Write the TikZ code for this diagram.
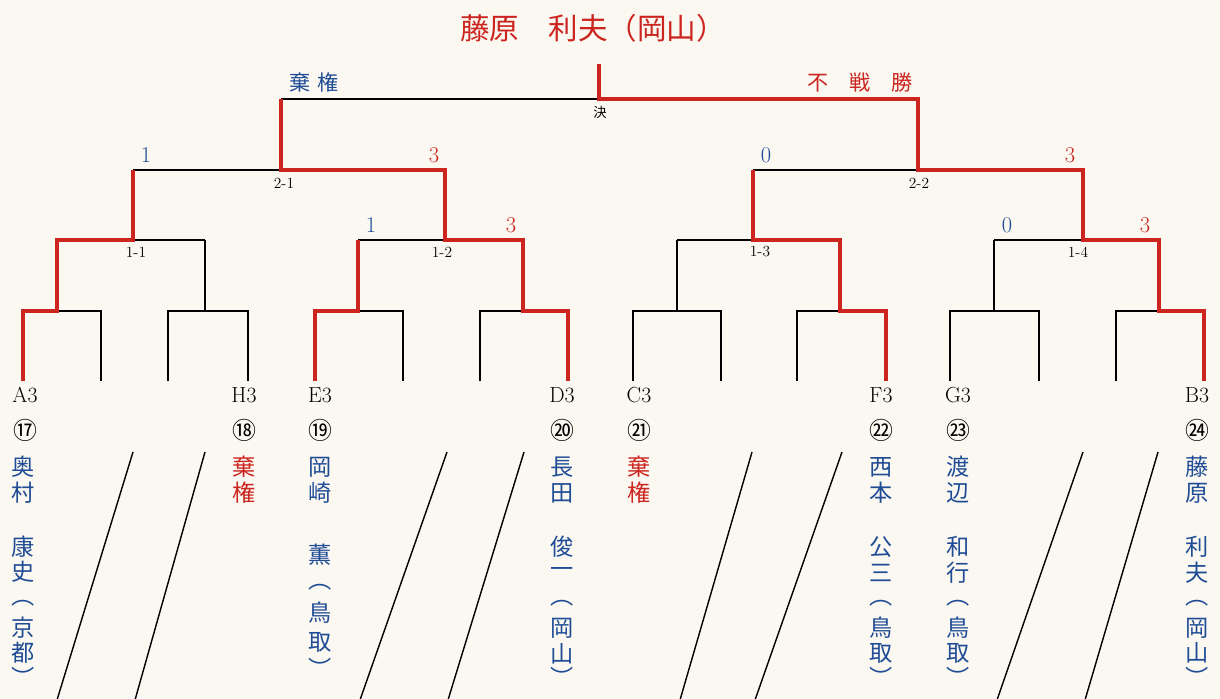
\documentclass[tikz,border=0pt]{standalone}
\usepackage{fontspec}
\usepackage{tikz}
\newfontfamily\jpfont{Noto Sans CJK JP}
\definecolor{winred}{RGB}{204,36,30}
\definecolor{nameblue}{RGB}{32,76,150}
\definecolor{paper}{RGB}{250,248,241}

\tikzset{
  bline/.style={black, line width=0.9pt},
  rline/.style={winred, line width=2.6pt},
  slash/.style={black, line width=1pt},
  seed/.style={inner sep=0pt, font=\fontsize{15.5}{15.5}\selectfont},
  circnum/.style={inner sep=0pt, font=\jpfont\fontsize{17}{17}\selectfont},
  namechar/.style={inner sep=0pt, text=nameblue, font=\jpfont\fontsize{16.5}{16.5}\selectfont},
  score/.style={inner sep=0pt, font=\fontsize{16}{16}\selectfont},
  roundlbl/.style={inner sep=0pt, font=\fontsize{11}{11}\selectfont},
}

\begin{document}
\begin{tikzpicture}[x=0.025cm, y=-0.025cm]

\fill[paper] (0,0) rectangle (1220,698);
\useasboundingbox (0,0) rectangle (1220,698);

% winner
\node[inner sep=0pt, text=winred, font=\jpfont\fontsize{21}{21}\selectfont] (champ) at (593,28) {藤原　利夫（岡山）};

% bracket, black
\foreach \a/\b/\j in {23/101/57, 168/248/205, 315/403/358, 480/568/523, 633/721/677, 797/886/840, 950/1039/994, 1116/1204/1159}
{
  \draw[bline] (\a,381) -- (\a,311) -- (\b,311) -- (\b,381);
  \draw[bline] (\j,311) -- (\j,240);
}
\foreach \a/\b/\j in {57/205/133, 358/523/445, 677/840/753, 994/1159/1083}
{
  \draw[bline] (\a,240) -- (\b,240);
  \draw[bline] (\j,240) -- (\j,170);
}
\foreach \a/\b/\j in {133/445/281, 753/1083/918}
{
  \draw[bline] (\a,170) -- (\b,170);
  \draw[bline] (\j,170) -- (\j,99);
}
\draw[bline] (281,99) -- (918,99);

% bracket, red
\draw[rline] (23,381) -- (23,311) -- (57,311) -- (57,240) -- (133,240) -- (133,170);
\draw[rline] (315,381) -- (315,311) -- (358,311) -- (358,240);
\draw[rline] (568,381) -- (568,311) -- (523,311) -- (523,240) -- (445,240) -- (445,170) -- (281,170) -- (281,99);
\draw[rline] (886,381) -- (886,311) -- (840,311) -- (840,240) -- (753,240) -- (753,170);
\draw[rline] (1204,381) -- (1204,311) -- (1159,311) -- (1159,240) -- (1083,240) -- (1083,170) -- (918,170) -- (918,99) -- (599,99) -- (599,64);

% final
\node[inner sep=0pt, text=nameblue, font=\jpfont\fontsize{15}{15}\selectfont] (kiken) at (314,82) {棄\hspace{0.3em}権};
\node[inner sep=0pt, text=winred, font=\jpfont\fontsize{15}{15}\selectfont] (fusen) at (860,82) {不　戦　勝};
\node[inner sep=0pt, font=\jpfont\fontsize{9.5}{9.5}\selectfont] (ketsu) at (600,112) {決};

% round labels
\node[roundlbl] (r21) at (284,183) {2-1};
\node[roundlbl] (r22) at (919,183) {2-2};
\node[roundlbl] (r11) at (136,252) {1-1};
\node[roundlbl] (r12) at (442,252) {1-2};
\node[roundlbl] (r13) at (760,252) {1-3};
\node[roundlbl] (r14) at (1078,252) {1-4};

% scores
\node[score, text=nameblue] (s21a) at (146,155) {1};
\node[score, text=winred] (s21b) at (434,155) {3};
\node[score, text=nameblue] (s22a) at (766,155) {0};
\node[score, text=winred] (s22b) at (1070,155) {3};
\node[score, text=nameblue] (s12a) at (371,225) {1};
\node[score, text=winred] (s12b) at (511,225) {3};
\node[score, text=nameblue] (s14a) at (1007,225) {0};
\node[score, text=winred] (s14b) at (1145,225) {3};

% seeds and numbers
\foreach \x/\s/\n in {25/A3/⑰, 244/H3/⑱, 320/E3/⑲, 562/D3/⑳, 639/C3/㉑, 881/F3/㉒, 958/G3/㉓, 1197/B3/㉔}
{
  \node[seed] (seed-\s) at (\x,395) {\s};
  \node[circnum] (num-\s) at (\x,430) {\n};
}

% players
\foreach \y/\c [count=\i] in {467/奥, 493/村, 547/康, 572/史, 603/︵, 628/京, 653/都, 677/︶}
  \node[namechar] (a3-\i) at (23,\y) {\c};
\foreach \y/\c [count=\i] in {467/岡, 493/崎, 555/薫, 587/︵, 613/鳥, 642/取, 668/︶}
  \node[namechar] (e3-\i) at (320,\y) {\c};
\foreach \y/\c [count=\i] in {467/長, 493/田, 547/俊, 572/一, 603/︵, 628/岡, 654/山, 677/︶}
  \node[namechar] (d3-\i) at (562,\y) {\c};
\foreach \y/\c [count=\i] in {467/西, 493/本, 547/公, 573/三, 603/︵, 628/鳥, 653/取, 677/︶}
  \node[namechar] (f3-\i) at (881,\y) {\c};
\foreach \y/\c [count=\i] in {467/渡, 493/辺, 547/和, 573/行, 603/︵, 628/鳥, 653/取, 677/︶}
  \node[namechar] (g3-\i) at (958,\y) {\c};
\foreach \y/\c [count=\i] in {467/藤, 493/原, 547/利, 573/夫, 603/︵, 628/岡, 653/山, 677/︶}
  \node[namechar] (b3-\i) at (1197,\y) {\c};
\foreach \x/\s in {244/h3, 639/c3}
{
  \node[namechar, text=winred] (\s-1) at (\x,467) {棄};
  \node[namechar, text=winred] (\s-2) at (\x,493) {権};
}

% empty slots
\foreach \t/\u in {133/57, 205/135, 447/360, 524/448, 752/680, 842/755, 1083/997, 1158/1085}
  \draw[slash] (\t,452) -- (\u,700);

\end{tikzpicture}
\end{document}
